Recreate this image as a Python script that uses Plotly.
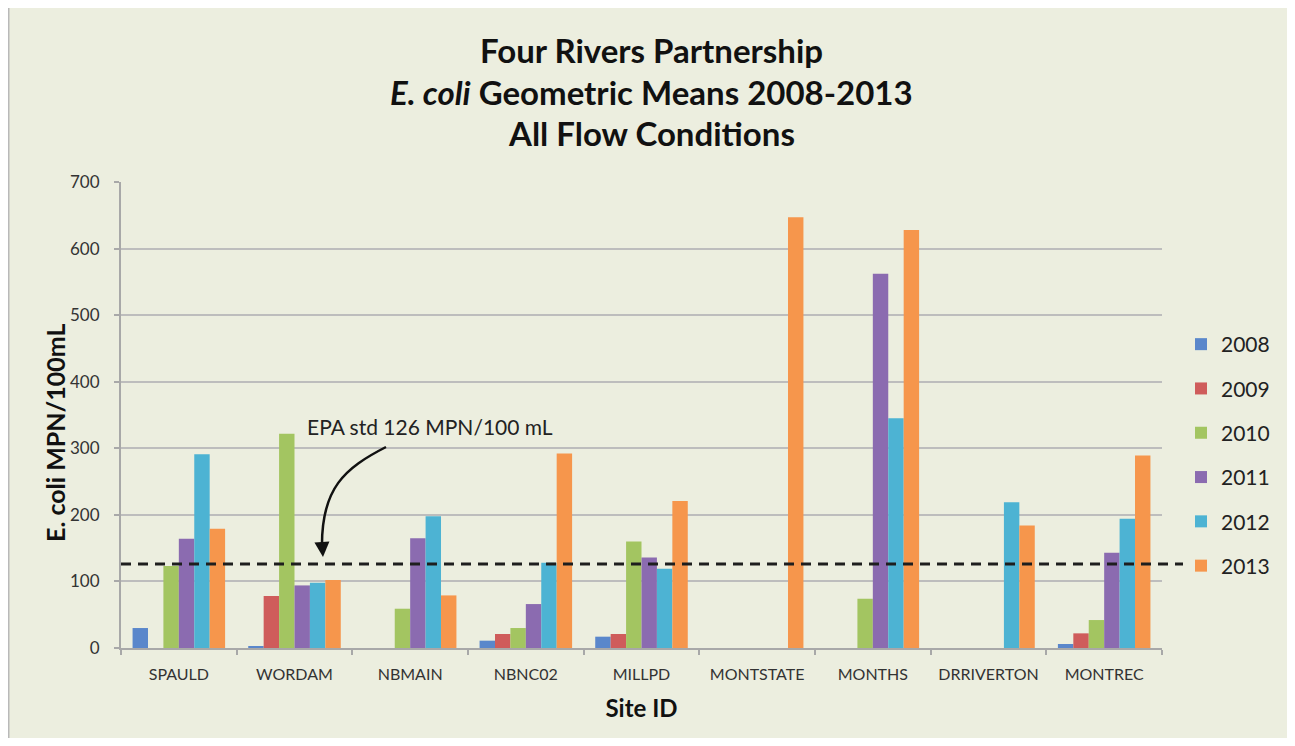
import plotly.graph_objects as go

sites = ["SPAULD", "WORDAM", "NBMAIN", "NBNC02", "MILLPD", "MONTSTATE", "MONTHS", "DRRIVERTON", "MONTREC"]
years = ["2008", "2009", "2010", "2011", "2012", "2013"]

v2008 = [30, 3, None, 11, 17, None, None, None, 6]
v2009 = [None, 78, None, 21, 21, None, None, None, 22]
v2010 = [123, 322, 59, 30, 160, None, 74, None, 42]
v2011 = [164, 94, 165, 66, 136, None, 562, None, 143]
v2012 = [291, 98, 198, 128, 119, None, 345, 219, 194]
v2013 = [179, 102, 79, 292, 221, 647, 628, 184, 289]
values = [v2008, v2009, v2010, v2011, v2012, v2013]

colors = ["#5A87CB", "#CF5C5B", "#A3C561", "#8B6BB0", "#4DB3D3", "#F6964C"]
epa_std = 126

FONT = "Lato"
OFF = 8                      # page offset of the figure inside the browser
W, H = 1295 - OFF, 746 - 2 * OFF
# plot area in reference-image pixels
X0, X1, Y0, Y1 = 121, 1162, 182, 648
L, R, T, B = X0 - OFF, W - (X1 - OFF), Y0 - OFF, H - (Y1 - OFF)
PW, PH = X1 - X0, Y1 - Y0


def px(x):
    return (x - X0) / PW


def py(y):
    return (Y1 - y) / PH


fig = go.Figure()
for yr, vals, col in zip(years, values, colors):
    fig.add_trace(go.Bar(
        x=sites, y=vals, name=yr, marker=dict(color=col, line=dict(width=0)),
        legendgroup=yr,
    ))

shapes = [
    dict(type="rect", xref="paper", yref="paper", x0=px(8), x1=px(1291), y0=py(5), y1=py(770),
         fillcolor="#ECEEDF", line=dict(color="#B9B9B9", width=3), layer="below"),
    dict(type="line", xref="paper", yref="y", x0=0, x1=px(1183), y0=epa_std, y1=epa_std,
         line=dict(color="#1E1E1E", width=3, dash="10px,7px"), layer="above"),
    dict(type="path", xref="paper", yref="paper",
         path=f"M {px(386)},{py(447)} C {px(345)},{py(468)} {px(321)},{py(488)} {px(322)},{py(548)}",
         line=dict(color="#111111", width=2.5)),
]

title_font = dict(family=FONT, size=33, color="#111111")
annotations = [
    dict(text="<b>Four Rivers Partnership</b>", xref="paper", yref="paper", x=px(651), y=py(50),
         xanchor="center", yanchor="middle", showarrow=False, font=title_font),
    dict(text="<b><i>E. coli</i> Geometric Means 2008-2013</b>", xref="paper", yref="paper", x=px(651), y=py(92),
         xanchor="center", yanchor="middle", showarrow=False, font=title_font),
    dict(text="<b>All Flow Conditions</b>", xref="paper", yref="paper", x=px(651), y=py(133),
         xanchor="center", yanchor="middle", showarrow=False, font=title_font),
    dict(text="<b>E. coli MPN/100mL</b>", xref="paper", yref="paper", x=px(55), y=py(433),
         xanchor="center", yanchor="middle", textangle=-90, showarrow=False,
         font=dict(family=FONT, size=25, color="#111111")),
    dict(text="EPA std 126 MPN/100 mL", xref="paper", yref="paper", x=px(430), y=py(426),
         xanchor="center", yanchor="middle", showarrow=False, font=dict(family=FONT, size=21, color="#222222")),
    dict(text="", xref="paper", yref="paper", x=px(323), y=py(557), showarrow=True,
         ax=-1, ay=-14, arrowhead=2, arrowsize=1.2, arrowwidth=2.5, arrowcolor="#111111"),
]

fig.update_layout(
    width=W, height=H,
    margin=dict(l=L, r=R, t=T, b=B, pad=0, autoexpand=False),
    paper_bgcolor="white", plot_bgcolor="white",
    barmode="group", bargap=0.2, bargroupgap=0,
    font=dict(family=FONT, color="#333333"),
    shapes=shapes, annotations=annotations,
    legend=dict(x=px(1181), y=py(324), xanchor="left", yanchor="top",
                font=dict(family=FONT, size=21, color="#222222"),
                bgcolor="rgba(0,0,0,0)", traceorder="grouped", tracegroupgap=14,
                itemwidth=30),
    xaxis=dict(
        title=dict(text="<b>Site ID</b>", font=dict(family=FONT, size=24, color="#111111"), standoff=18),
        showline=True, linecolor="#A8A8A8", linewidth=2, automargin=False,
        ticks="outside", tickson="boundaries", ticklen=5, tickcolor="#A8A8A8", tickwidth=2,
        tickfont=dict(family=FONT, size=16, color="#333333"), tickangle=0,
        ticklabelstandoff=11,
        showgrid=False,
    ),
    yaxis=dict(
        range=[0, 700], dtick=100, tick0=0, automargin=False,
        showline=True, linecolor="#A8A8A8", linewidth=2,
        ticks="outside", ticklen=5, tickcolor="#A8A8A8", tickwidth=2,
        tickfont=dict(family=FONT, size=17, color="#333333"),
        showgrid=True, gridcolor="#BDBDBD", gridwidth=2, zeroline=False,
        ticklabelstandoff=11,
    ),
)

fig.write_html("out.html")
